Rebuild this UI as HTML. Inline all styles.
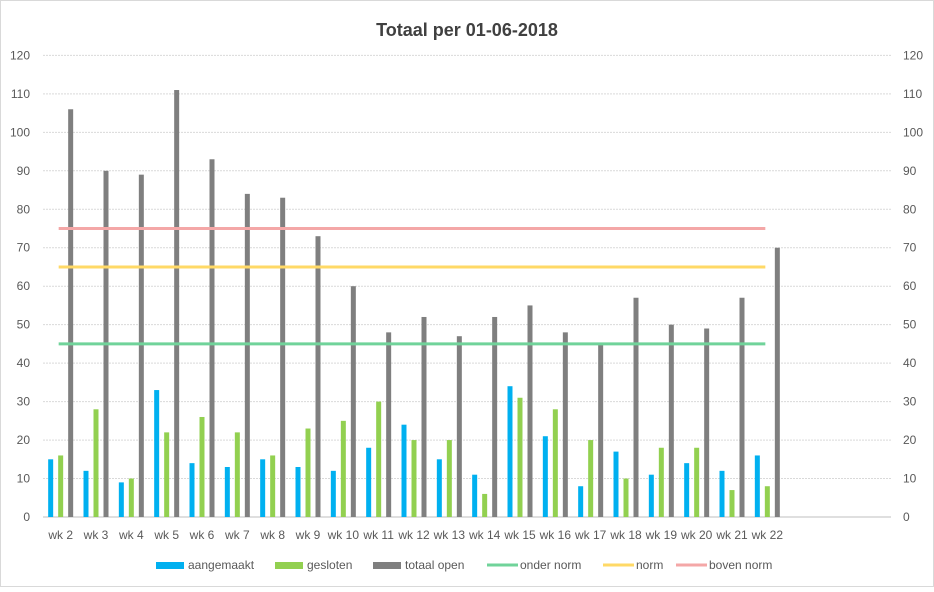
<!DOCTYPE html>
<html><head><meta charset="utf-8"><style>
body{margin:0;background:#fff;font-family:"Liberation Sans",sans-serif}
svg text{font-family:"Liberation Sans",sans-serif;fill:#595959}
</style></head><body>
<svg width="934" height="587">
<rect x="0.5" y="0.5" width="933" height="586" fill="#fff" stroke="#d9d9d9"/>
<text x="467" y="36" text-anchor="middle" font-size="18" font-weight="bold" style="fill:#404040">Totaal per 01-06-2018</text>
<g id="grid"></g><g id="bars"></g><g id="lines"></g><g id="axes"></g>
<g id="legend" font-size="12"></g>
</svg>
<script>
const categories=["wk 2","wk 3","wk 4","wk 5","wk 6","wk 7","wk 8","wk 9","wk 10","wk 11","wk 12","wk 13","wk 14","wk 15","wk 16","wk 17","wk 18","wk 19","wk 20","wk 21","wk 22"];
const aangemaakt=[15,12,9,33,14,13,15,13,12,18,24,15,11,34,21,8,17,11,14,12,16];
const gesloten=[16,28,10,22,26,22,16,23,25,30,20,20,6,31,28,20,10,18,18,7,8];
const totaalOpen=[106,90,89,111,93,84,83,73,60,48,52,47,52,55,48,45,57,50,49,57,70];
const onderNorm=45, norm=65, bovenNorm=75;
const yTicks=[0,10,20,30,40,50,60,70,80,90,100,110,120];
const NS="http://www.w3.org/2000/svg";
const x0=43,x1=891,nCat=24,cw=(x1-x0)/nCat;
const y=v=>517-v*(517-55.4)/120;
const cx=i=>x0+cw*(i+0.5);
function mk(p,t,a){const e=document.createElementNS(NS,t);for(const k in a)e.setAttribute(k,a[k]);document.getElementById(p).appendChild(e);return e;}
yTicks.forEach(t=>{
 const g=mk('grid','line',{x1:x0,x2:x1,y1:y(t),y2:y(t),stroke:t?'#d9d9d9':'#bfbfbf','stroke-width':1,'stroke-dasharray':t?'2,1':''});
 
 
 const l=mk('axes','text',{x:30,y:y(t)+4,'text-anchor':'end','font-size':12});l.textContent=t;
 
 
 const r=mk('axes','text',{x:903,y:y(t)+4,'text-anchor':'start','font-size':12});r.textContent=t;
 
 
});
const series=[[aangemaakt,'#00b0f0',-10],[gesloten,'#92d050',0],[totaalOpen,'#7f7f7f',10]];
categories.forEach((c,i)=>{
 series.forEach(s=>{
  const b=mk('bars','rect',{x:cx(i)+s[2]-2.5,y:y(s[0][i]),width:5,height:517-y(s[0][i]),fill:s[1]});
  
  
 });
 const t=mk('axes','text',{x:cx(i),y:539,'text-anchor':'middle','font-size':12});t.textContent=c;
 
 
});
[[onderNorm,'#70d39a'],[norm,'#ffd966'],[bovenNorm,'#f4a7a7']].forEach(s=>{
 const l=mk('lines','line',{x1:cx(0)-2,x2:cx(categories.length-1)-2,y1:y(s[0]),y2:y(s[0]),stroke:s[1],'stroke-width':3});
 
 
});
const leg=[['aangemaakt','#00b0f0',156,'r'],['gesloten','#92d050',275,'r'],['totaal open','#7f7f7f',373,'r'],['onder norm','#70d39a',487,'l'],['norm','#ffd966',603,'l'],['boven norm','#f4a7a7',676,'l']];
leg.forEach(e=>{
 const g=mk('legend','g',{});
 
 
 const s=document.createElementNS(NS,e[3]=='r'?'rect':'line');
 if(e[3]=='r'){s.setAttribute('x',e[2]);s.setAttribute('y',562);s.setAttribute('width',28);s.setAttribute('height',7);s.setAttribute('fill',e[1]);}
 else{s.setAttribute('x1',e[2]);s.setAttribute('x2',e[2]+31);s.setAttribute('y1',565);s.setAttribute('y2',565);s.setAttribute('stroke',e[1]);s.setAttribute('stroke-width',3);}
 g.appendChild(s);
 const t=document.createElementNS(NS,'text');t.setAttribute('x',e[2]+(e[3]=='r'?32:33));t.setAttribute('y',569);t.setAttribute('font-size','12');t.textContent=e[0];g.appendChild(t);
});
</script>
</body></html>
